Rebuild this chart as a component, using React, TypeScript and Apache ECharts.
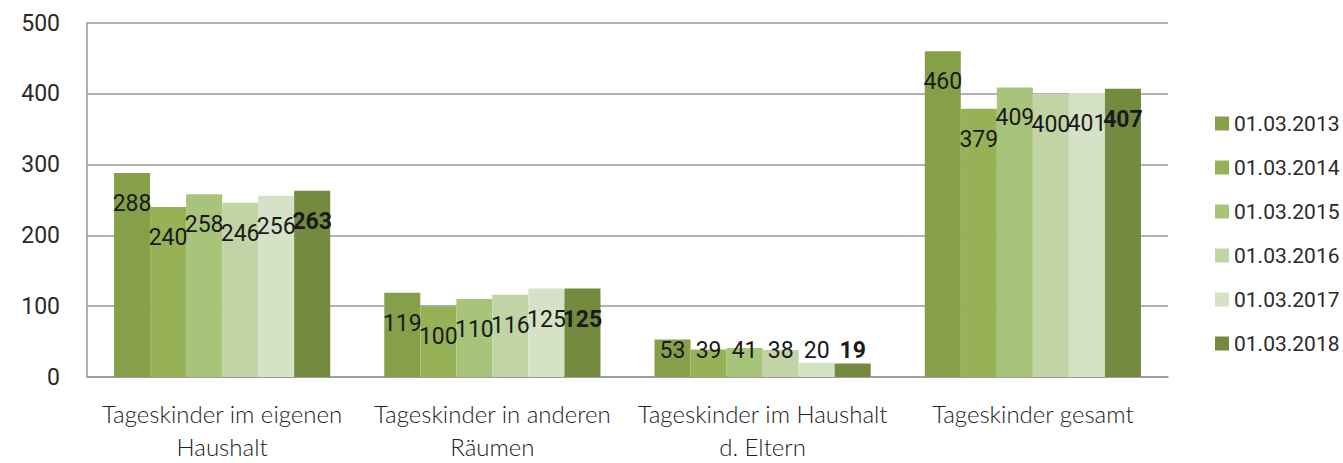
import React, { useEffect, useRef } from "react";
import * as echarts from "echarts";

const categories = [
  "Tageskinder im eigenen\nHaushalt",
  "Tageskinder in anderen\nRäumen",
  "Tageskinder im Haushalt\nd. Eltern",
  "Tageskinder gesamt",
];
const seriesNames = ["01.03.2013", "01.03.2014", "01.03.2015", "01.03.2016", "01.03.2017", "01.03.2018"];
const v2013 = [288, 119, 53, 460];
const v2014 = [240, 100, 39, 379];
const v2015 = [258, 110, 41, 409];
const v2016 = [246, 116, 38, 400];
const v2017 = [256, 125, 20, 401];
const v2018 = [263, 125, 19, 407];
const yTicks = [0, 100, 200, 300, 400, 500];

const colors = ["#86a04a", "#97b256", "#a8c47b", "#c2d4a6", "#d6e2c5", "#738a3f"];
const FONT = "Roboto, 'DejaVu Sans Condensed', sans-serif";
const CAT_FONT = "Lato, 'Open Sans', sans-serif";

export default function App() {
  const ref = useRef<HTMLDivElement>(null);
  useEffect(() => {
    const chart = echarts.init(ref.current!, null, { renderer: "svg" });
    const all = [v2013, v2014, v2015, v2016, v2017, v2018];
    const series = all.map((vals, si) => ({
      name: seriesNames[si],
      type: "bar",
      barGap: "0%",
      barCategoryGap: "20%",
      itemStyle: { color: colors[si] },
      label: {
        show: true,
        position: "insideTop",
        distance: 19,
        fontFamily: FONT,
        fontSize: 23,
        color: "#1a1a1a",
        fontWeight: si === 5 ? "bold" : "normal",
      },
      data: vals.map((v, ci) =>
        ci === 2
          ? { value: v, label: { position: "insideBottom", distance: 15 } }
          : v
      ),
    }));
    chart.setOption({
      animation: false,
      grid: { left: 87, right: 175, top: 23, bottom: 83 },
      legend: {
        orient: "vertical",
        left: 1210,
        top: 108,
        itemWidth: 14,
        itemHeight: 14,
        itemGap: 23,
        icon: "rect",
        textStyle: { fontFamily: FONT, fontSize: 21, color: "#2a2a2a" },
        data: seriesNames,
      },
      xAxis: {
        type: "category",
        data: categories,
        axisLine: { lineStyle: { color: "#999", width: 1.5 } },
        axisTick: { show: false },
        axisLabel: {
          fontFamily: CAT_FONT,
          fontSize: 24,
          fontWeight: 300,
          lineHeight: 33,
          color: "#222",
          margin: 20,
          interval: 0,
        },
      },
      yAxis: {
        type: "value",
        min: yTicks[0],
        max: yTicks[yTicks.length - 1],
        interval: 100,
        axisLine: { show: true, lineStyle: { color: "#999", width: 1.5 } },
        axisTick: { show: false },
        splitLine: { lineStyle: { color: "#999", width: 1.5 } },
        axisLabel: { fontFamily: FONT, fontSize: 23, color: "#2a2a2a", margin: 27 },
      },
      series,
    });
    return () => chart.dispose();
  }, []);
  return (
    <div
      ref={ref}
      style={{ position: "fixed", left: 0, top: 0, width: 1343, height: 463, background: "#fff" }}
    />
  );
}
